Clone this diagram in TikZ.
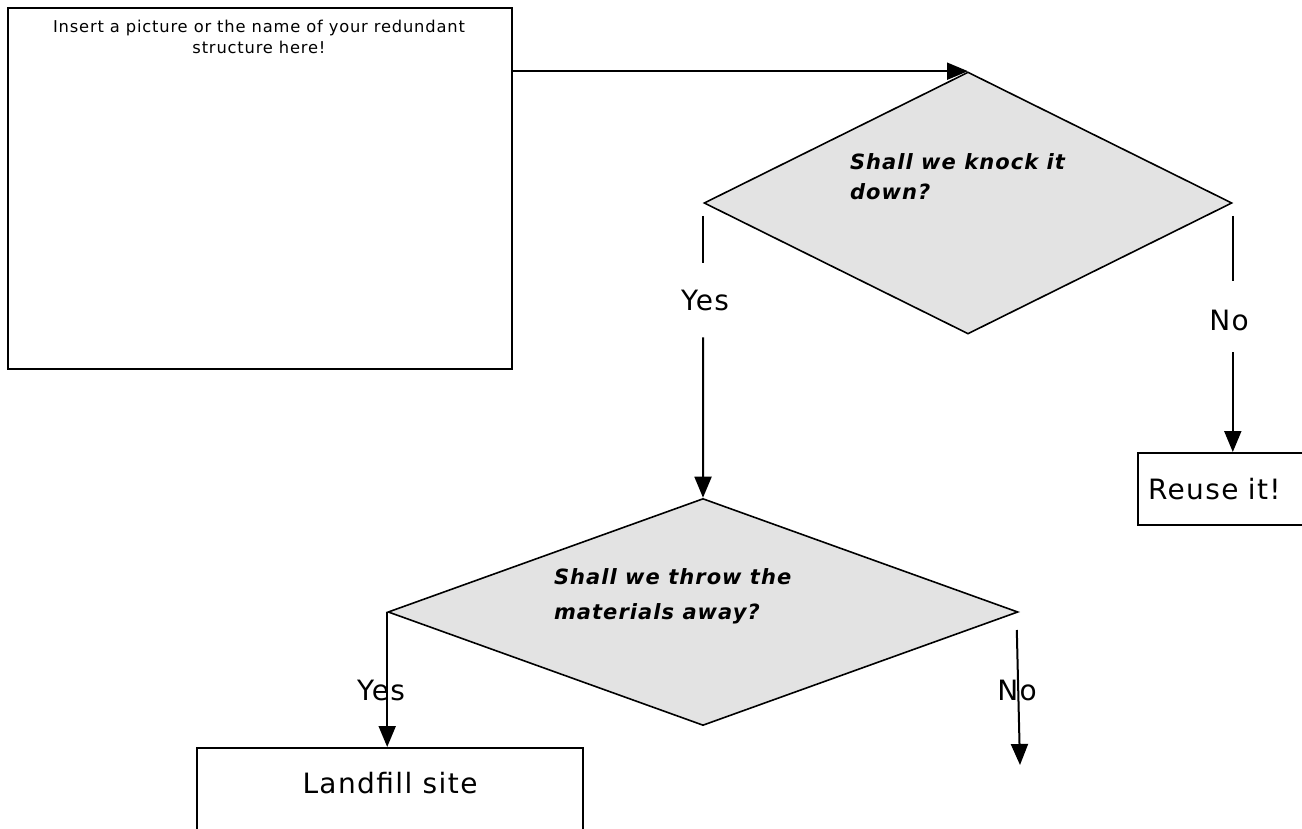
\documentclass[tikz,border=0pt]{standalone}
\usepackage{fontspec}
\setmainfont{DejaVu Sans}[LetterSpace=5]
\usetikzlibrary{shapes.geometric,arrows.meta}

\begin{document}
\begin{tikzpicture}[x=1pt,y=-1pt,
  line width=2pt,
  box/.style={draw, rectangle, line width=2pt, inner sep=0pt},
  decision/.style={draw, diamond, fill=gray!22, line width=1.6pt, inner sep=0pt},
  arr/.style={-{Triangle[length=21pt,width=17pt]}},
  big/.style={font=\fontsize{28}{32}\selectfont, inner sep=0pt},
  qtext/.style={font=\fontsize{21}{30}\selectfont\bfseries\itshape, align=left, anchor=north west, inner sep=0pt},
]
\useasboundingbox (0,0) rectangle (1302,829);
\clip (0,0) rectangle (1302,829);

% starting box
\node[box, anchor=north west, minimum width=504, minimum height=361] (src) at (7,7) {};
\node[font=\fontsize{16.3}{21}\selectfont, align=center, anchor=north, inner sep=0pt] (srctxt) at (259,19)
  {Insert a picture or the name of your redundant\\structure here!};

% first decision
\node[decision, minimum width=528, minimum height=262] (q1) at (968,203) {};
\node[qtext] (q1txt) at (849,153) {Shall we knock it\\down?};
\draw[arr] (src.east |- q1.north) -- (q1.north);

% second decision
\node[decision, minimum width=630, minimum height=227] (q2) at (703,612) {};
\node[qtext, font=\fontsize{21}{35}\selectfont\bfseries\itshape] (q2txt) at (553,568) {Shall we throw the\\materials away?};

% outcome boxes
\node[box, anchor=north west, minimum width=200, minimum height=72, text width=180pt,
      inner xsep=10pt, inner ysep=0pt, align=left, font=\fontsize{28}{32}\selectfont] (reuse) at (1137,452) {Reuse it!};
\node[box, anchor=north, minimum width=386, minimum height=120] (land) at (390,747) {};
\node[big] (landtxt) at (390,783) {Landfill site};

% yes / no branches of the first decision
\node[big] (yes1) at (705,300) {Yes};
\draw ([yshift=-13pt]q1.west) -- ([yshift=26pt]q1.west |- yes1.north);
\draw[arr] ([yshift=-26pt]q1.west |- yes1.south) -- (q2.north);

\node[big] (no1) at (1229,320) {No};
\draw ([yshift=-13pt]q1.east) -- ([yshift=28pt]q1.east |- no1.north);
\draw[arr] ([yshift=-21pt]q1.east |- no1.south) -- (q1.east |- reuse.north);

% yes / no branches of the second decision
\node[big] (yes2) at (381,690) {Yes};
\draw[arr] (q2.west) -- (q2.west |- land.north);

\node[big] (no2) at (1017,690) {No};
\coordinate (no2end) at (1020,765);
\draw[arr] ([shift={(-2pt,-18pt)}]q2.east) -- (no2end);
\end{tikzpicture}
\end{document}
